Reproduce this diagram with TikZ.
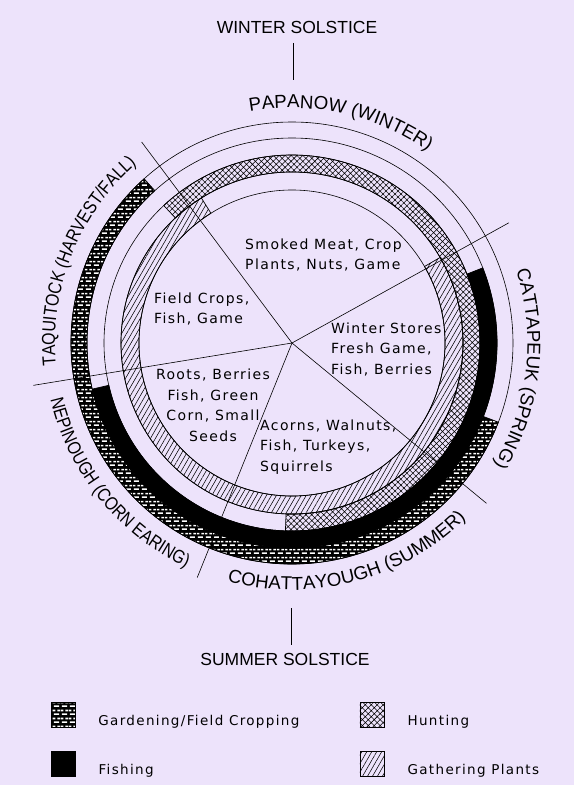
\documentclass[tikz,border=0pt]{standalone}
\usepackage{fontspec}
\usepackage{tikz}
\usetikzlibrary{patterns,patterns.meta,decorations.text,positioning}
\setmainfont{Liberation Sans}
\newfontfamily\plotfont[LetterSpace=10]{DejaVu Sans}
\newfontfamily\seasonfont{Liberation Sans}
\newfontfamily\seasonnarrow[FakeStretch=0.85]{Liberation Sans}
\newcommand{\bigseason}{\seasonfont\fontsize{18.7}{18.7}\selectfont}
\newcommand{\narrowseason}{\seasonnarrow\fontsize{18.7}{18.7}\selectfont}
\definecolor{paper}{RGB}{237,227,251}

% white bricks on black, for the field cropping ring
\tikzdeclarepattern{
  name=plotbricks,
  type=uncolored,
  bounding box={(0pt,0pt) and (7.5pt,7.6pt)},
  tile size={(7.5pt,7.6pt)},
  code={
    \fill (0.8pt,1.1pt) rectangle (6.3pt,2.7pt);
    \fill (4.55pt,4.9pt) rectangle (7.5pt,6.5pt);
    \fill (0pt,4.9pt) rectangle (2.55pt,6.5pt);
  }
}

% one ring segment: style, from angle, to angle, inner radius, outer radius
\newcommand{\seasonband}[5]{%
  \path[#1] (#2:#4) arc[start angle=#2, end angle=#3, radius=#4]
    -- (#3:#5) arc[start angle=#3, end angle=#2, radius=#5] -- cycle;}

\tikzset{
  band/.style={draw=black, line width=0.7pt},
  garden/.style={fill=black, postaction={pattern=plotbricks, pattern color=white},
    postaction={draw=black, line width=0.7pt}},
  fish/.style={band, fill=black},
  hunt/.style={band, pattern={Hatch[angle=45,distance=4.2pt,line width=0.55pt]}},
  gather/.style={band, pattern={Lines[angle=60,distance=4.3pt,line width=0.55pt]}},
  ring/.style={line width=0.6pt},
  spoke/.style={line width=0.6pt},
  food/.style={font=\plotfont\fontsize{14}{20.5}\selectfont, inner sep=0pt},
  legbox/.style={minimum width=24pt, minimum height=25pt, inner sep=0pt},
  legtext/.style={font=\plotfont\fontsize{13.5}{16}\selectfont, inner sep=0pt, anchor=west},
  solstice/.style={font=\fontsize{17.5}{20}\selectfont, inner sep=0pt},
  season/.style={decorate, decoration={text along path, text align=center, text={#1}}},
}

\begin{document}
\begin{tikzpicture}[x=1pt,y=1pt]
  % paper (also fixes the bounding box)
  \fill[paper] (-292,-442) rectangle (282,343);
  \coordinate (hub) at (0,0);

  % activity rings, inside out
  \seasonband{gather}{122}{390}{153pt}{171pt}
  \seasonband{hunt}{268}{493}{171pt}{188pt}
  \seasonband{fish}{193}{381.5}{188pt}{205pt}
  \seasonband{garden}{132}{339}{205pt}{221pt}

  % circles and season dividers
  \foreach \r in {153,171,188,205,221}
    \draw[ring] (hub) circle[radius=\r pt];
  \foreach \a/\l in {29/248,126.8/251,189.3/262,248/253,-39.5/252}
    \draw[spoke] (hub) -- (\a:\l pt);

  % season names round the outside
  \path[season={|\bigseason|PAPANOW (WINTER)}]
    (117.5:235pt) arc[start angle=117.5, end angle=37.5, radius=235pt];
  \path[season={|\bigseason|CATTAPEUK (SPRING)}]
    (33.5:235.5pt) arc[start angle=33.5, end angle=-46.5, radius=235.5pt];
  \path[season={|\narrowseason|TAQUITOCK (HARVEST/FALL)}]
    (198.2:237pt) arc[start angle=198.2, end angle=118.2, radius=237pt];
  \path[season={|\narrowseason|NEPINOUGH (CORN EARING)}]
    (178.9:248pt) arc[start angle=178.9, end angle=258.9, radius=248pt];
  \path[season={|\bigseason|COHATTAYOUGH (SUMMER)}]
    (244.8:247pt) arc[start angle=244.8, end angle=324.8, radius=247pt];

  % foods in each season
  \node[food, anchor=west, align=left] (smoked) at (-47,88) {Smoked Meat, Crop\\Plants, Nuts, Game};
  \node[food, anchor=west, align=left] (field) at (-138,34) {Field Crops,\\Fish, Game};
  \node[food, anchor=west, align=left] (stores) at (39,-6) {Winter Stores\\Fresh Game,\\Fish, Berries};
  \node[food, align=center] (roots) at (-79,-62.5) {Roots, Berries\\Fish, Green\\Corn, Small\\Seeds};
  \node[food, anchor=west, align=left] (acorns) at (-32,-104) {Acorns, Walnuts,\\Fish, Turkeys,\\Squirrels};

  % solstices
  \node[solstice] (wsol) at (5,316) {WINTER SOLSTICE};
  \coordinate (wtop) at (1,300);
  \coordinate (wend) at (1,263);
  \draw[spoke] (wtop) -- (wend);
  \node[solstice] (ssol) at (-7,-316) {SUMMER SOLSTICE};
  \coordinate (stop) at (-1,-265);
  \coordinate (send) at (-1,-302);
  \draw[spoke] (stop) -- (send);

  % legend
  \node[legbox, garden] (gbox) at (-229,-371.5) {};
  \node[legtext, right=23pt of gbox, yshift=-7.5pt] (glab) {Gardening/Field Cropping};
  \node[legbox, fish] (fbox) at (-229,-420.5) {};
  \node[legtext, right=23pt of fbox, yshift=-7.5pt] (flab) {Fishing};
  \node[legbox, hunt] (hbox) at (80,-371.5) {};
  \node[legtext, right=23pt of hbox, yshift=-7.5pt] (hlab) {Hunting};
  \node[legbox, gather] (pbox) at (80,-420.5) {};
  \node[legtext, right=23pt of pbox, yshift=-7.5pt] (plab) {Gathering Plants};
\end{tikzpicture}
\end{document}
